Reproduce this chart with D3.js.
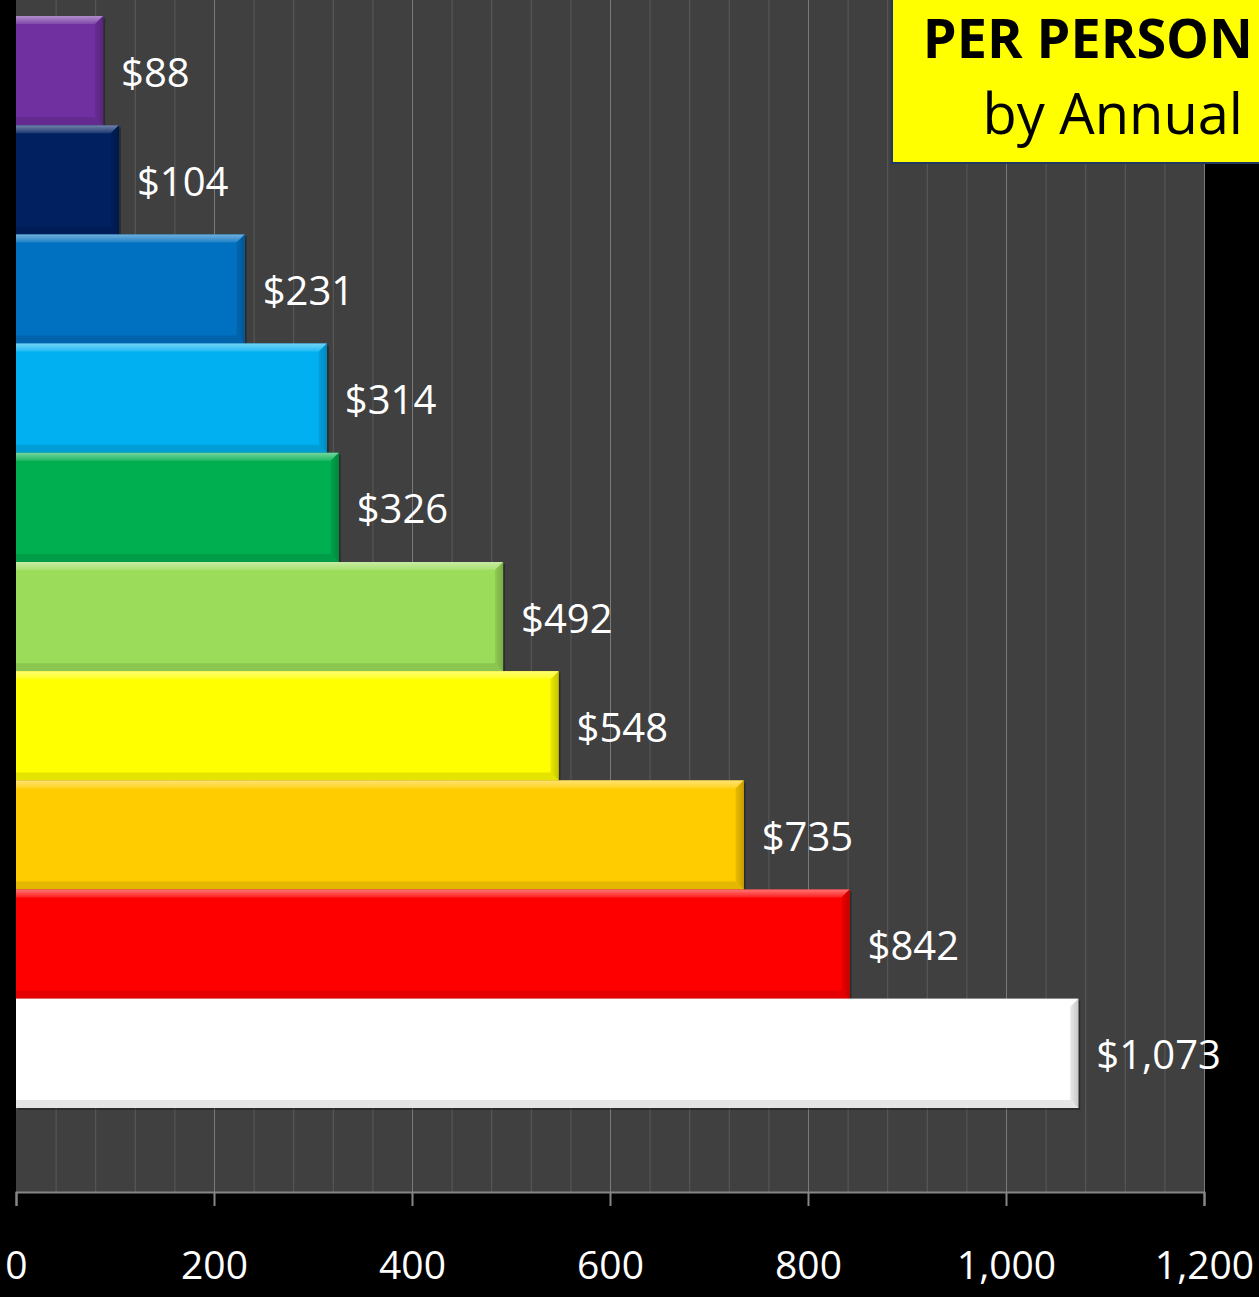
<!DOCTYPE html>
<html><head><meta charset="utf-8">
<script src="https://cdn.jsdelivr.net/npm/d3@7"></script>
<style>html,body{margin:0;padding:0;background:#000;}svg{display:block;}</style>
</head><body>
<svg id="chart" width="1259" height="1297"></svg>
<script>
const categories = ["A","B","C","D","E","F","G","H","I","J"];
const values = [88,104,231,314,326,492,548,735,842,1073];
const colors = ["#7030A0","#002060","#0070C0","#00B0F0","#00B050","#9BDD5A","#FFFF00","#FFCC00","#FF0000","#FFFFFF"];
const tickValues = [0,200,400,600,800,1000,1200];
const titleLines = ["PER PERSON","by Annual"];

const svg = d3.select("#chart");
const W = 1259, H = 1297;
const x = d3.scaleLinear().domain([0,1200]).range([16,1204]);
const y = d3.scaleBand().domain(categories).range([16,1108]).padding(0);
const plotTop = 0, plotBottom = 1192;

svg.append("rect").attr("width",W).attr("height",H).attr("fill","#000");
svg.append("rect").attr("x",x(0)).attr("y",plotTop).attr("width",x(1200)-x(0)).attr("height",plotBottom-plotTop).attr("fill","#404040");

const minor = d3.range(40,1200,40).filter(v=>v%200!==0);
svg.append("g").selectAll("line").data(minor).join("line")
  .attr("x1",d=>x(d)+0.5).attr("x2",d=>x(d)+0.5).attr("y1",plotTop).attr("y2",plotBottom)
  .attr("stroke","#5a5a5a").attr("stroke-width",1);
svg.append("g").selectAll("line").data(tickValues.slice(1)).join("line")
  .attr("x1",d=>x(d)+0.5).attr("x2",d=>x(d)+0.5).attr("y1",plotTop).attr("y2",plotBottom)
  .attr("stroke","#7a7a7a").attr("stroke-width",1);

const axis = d3.axisBottom(x).tickValues(tickValues).tickSize(14).tickPadding(0).tickFormat(d3.format(","));
const ag = svg.append("g").attr("transform",`translate(0,${plotBottom})`).call(axis);
ag.select(".domain").attr("stroke","#868686").attr("stroke-width",2);
ag.selectAll(".tick line").attr("stroke","#868686").attr("stroke-width",2);
ag.selectAll(".tick text").attr("fill","#fff").attr("font-family","'Open Sans', sans-serif")
  .attr("font-size",39).attr("dy",0).attr("y",87);

const defs = svg.append("defs");
const b = 8;
const bars = svg.append("g").selectAll("g").data(values).join("g");
bars.append("rect")
  .attr("x",x(0)+2).attr("y",(d,i)=>y(categories[i])+2)
  .attr("width",d=>x(d)-x(0)).attr("height",y.bandwidth())
  .attr("fill","rgba(0,0,0,0.3)");
bars.append("rect")
  .attr("x",x(0)).attr("y",(d,i)=>y(categories[i]))
  .attr("width",d=>x(d)-x(0)).attr("height",y.bandwidth())
  .attr("fill",(d,i)=>colors[i]);
function pts(arr){return arr.map(p=>p.join(",")).join(" ");}
bars.each(function(d,i){
  const g = d3.select(this);
  const x0 = x(0), x1 = x(d), y0 = y(categories[i]), y1 = y0 + y.bandwidth();
  const c = d3.color(colors[i]);
  const gid = "tg"+i;
  const lg = defs.append("linearGradient").attr("id",gid).attr("x1",0).attr("y1",0).attr("x2",0).attr("y2",1);
  lg.append("stop").attr("offset","0%").attr("stop-color",d3.interpolateRgb(colors[i],"#fff")(0.45));
  lg.append("stop").attr("offset","100%").attr("stop-color",d3.interpolateRgb(colors[i],"#fff")(0.12));
  const rid = "rg"+i;
  const rg = defs.append("linearGradient").attr("id",rid).attr("x1",0).attr("y1",0).attr("x2",1).attr("y2",0);
  const dk = i===9 ? d3.color("#c8c8c8") : c.darker(0.7);
  rg.append("stop").attr("offset","0%").attr("stop-color",c.darker(0.25).formatHex());
  rg.append("stop").attr("offset","100%").attr("stop-color",dk.formatHex());
  g.append("polygon").attr("points",pts([[x0,y0],[x1,y0],[x1-b,y0+b],[x0,y0+b]])).attr("fill",`url(#${gid})`);
  g.append("polygon").attr("points",pts([[x1,y0],[x1,y1],[x1-b,y1-b],[x1-b,y0+b]])).attr("fill",`url(#${rid})`);
  g.append("polygon").attr("points",pts([[x0,y1],[x1,y1],[x1-b,y1-b],[x0,y1-b]]))
    .attr("fill",(i===9?d3.color("#d0d0d0"):c.darker(0.6)).formatHex()).attr("opacity",0.55);
});

svg.append("g").selectAll("text").data(values).join("text")
  .attr("x",d=>x(d)+18).attr("y",(d,i)=>y(categories[i])+y.bandwidth()/2)
  .attr("dy","0.4em").attr("fill","#fff")
  .attr("font-family","'Open Sans', sans-serif").attr("font-size",40)
  .text(d=>"$"+d3.format(",")(d));

svg.append("rect").attr("x",892).attr("y",-2).attr("width",380).attr("height",165)
  .attr("fill","#FFFF00").attr("stroke","#1f3864").attr("stroke-width",2);
svg.append("text").attr("x",1253).attr("y",58).attr("text-anchor","end")
  .attr("font-family","'Open Sans', sans-serif").attr("font-weight","bold").attr("font-size",54)
  .attr("fill","#000").text(titleLines[0]);
svg.append("text").attr("x",1243).attr("y",134).attr("text-anchor","end")
  .attr("font-family","'Open Sans', sans-serif").attr("font-size",56)
  .attr("fill","#000").text(titleLines[1]);
</script>
</body></html>
